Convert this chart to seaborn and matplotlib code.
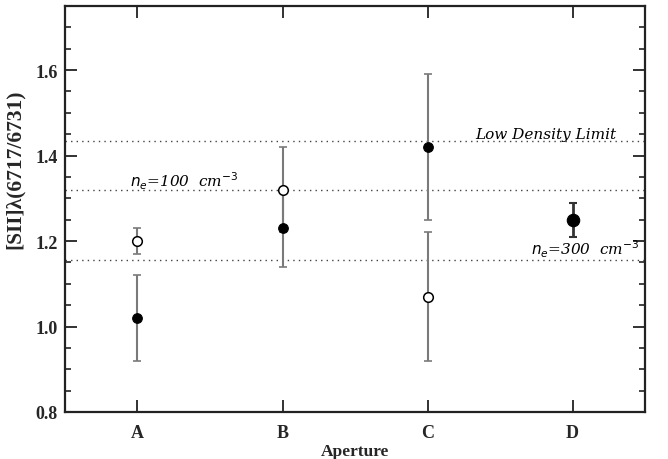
import matplotlib
matplotlib.use("Agg")
import matplotlib.pyplot as plt
from matplotlib.ticker import MultipleLocator, FixedLocator, FormatStrFormatter
import seaborn as sns
import pandas as pd

# Apertures and [SII] 6717/6731 line ratios
apertures = ["A", "B", "C", "D"]

filled_ratio = [1.02, 1.23, 1.42, 1.25]
filled_err = [0.10, 0.09, 0.17, 0.04]

open_apertures = ["A", "B", "C"]
open_ratio = [1.20, 1.32, 1.07]
open_err = [0.03, 0.10, 0.15]

# Density reference levels
low_density_limit = 1.433
ne100_level = 1.32
ne300_level = 1.155

sns.set_theme(style="ticks")
plt.rcParams["font.family"] = ["Liberation Serif", "DejaVu Serif"]

pos = {a: i + 1 for i, a in enumerate(apertures)}
df_filled = pd.DataFrame({"x": [pos[a] for a in apertures], "y": filled_ratio, "err": filled_err})
df_open = pd.DataFrame({"x": [pos[a] for a in open_apertures], "y": open_ratio, "err": open_err})

fig = plt.figure(figsize=(6.68, 4.60), dpi=100)
ax = fig.add_axes([0.0973, 0.1022, 0.8683, 0.8826])

# reference density levels
for lev in (low_density_limit, ne100_level, ne300_level):
    ax.axhline(lev, color="#444444", lw=1.0, ls=(0, (1, 3)), zorder=1)

# error bars: first three apertures in grey, D darker and heavier
grey = "#7a7a7a"
m = df_filled["x"] < 4
ax.errorbar(df_filled.loc[m, "x"], df_filled.loc[m, "y"], yerr=df_filled.loc[m, "err"],
            fmt="none", ecolor=grey, elinewidth=1.5, capsize=3, capthick=1.2, zorder=2)
ax.errorbar(df_open["x"], df_open["y"], yerr=df_open["err"],
            fmt="none", ecolor=grey, elinewidth=1.5, capsize=3, capthick=1.2, zorder=2)
ax.errorbar(df_filled.loc[~m, "x"], df_filled.loc[~m, "y"], yerr=df_filled.loc[~m, "err"],
            fmt="none", ecolor="#333333", elinewidth=2.0, capsize=3, capthick=1.5, zorder=2)

sns.scatterplot(data=df_filled[m], x="x", y="y", ax=ax, s=48, color="black",
                edgecolor="black", linewidth=0.8, zorder=3, legend=False)
sns.scatterplot(data=df_filled[~m], x="x", y="y", ax=ax, s=80, color="black",
                edgecolor="black", linewidth=0.8, zorder=3, legend=False)
sns.scatterplot(data=df_open, x="x", y="y", ax=ax, s=48, facecolor="white",
                edgecolor="black", linewidth=1.1, zorder=3, legend=False)

ax.set_xlim(0.5, 4.5)
ax.set_ylim(0.8, 1.75)
ax.xaxis.set_major_locator(FixedLocator([1, 2, 3, 4]))
ax.set_xticklabels(apertures)
ax.yaxis.set_major_locator(MultipleLocator(0.2))
ax.yaxis.set_minor_locator(MultipleLocator(0.05))
ax.yaxis.set_major_formatter(FormatStrFormatter("%.1f"))

ax.tick_params(axis="both", which="both", direction="in", top=True, right=True,
               color="#222222", labelsize=13)
ax.tick_params(axis="x", which="major", pad=9)
ax.tick_params(axis="y", which="major", pad=5)
ax.tick_params(axis="both", which="major", length=8.5, width=1.3)
ax.tick_params(axis="y", which="minor", length=4.5, width=1.2)
for lab in ax.get_xticklabels() + ax.get_yticklabels():
    lab.set_fontweight("bold")
for sp in ax.spines.values():
    sp.set_linewidth(1.6)
    sp.set_color("#222222")

ax.set_xlabel("Aperture", fontsize=12.5, fontweight="bold", labelpad=1)
ax.set_ylabel("[SII]λ(6717/6731)", fontsize=15.5, fontweight="bold")
ax.yaxis.set_label_coords(-0.069, 0.60)

lab_kw = dict(fontsize=11, fontstyle="italic", family=["DejaVu Serif"], color="black",
              va="baseline")
ax.text(4.3, low_density_limit + 0.008, "Low Density Limit", ha="right", **lab_kw)
ax.text(0.95, ne100_level + 0.008, r"$n_e$=100  cm$^{-3}$", ha="left", **lab_kw)
ax.text(4.46, ne300_level + 0.013, r"$n_e$=300  cm$^{-3}$", ha="right", **lab_kw)

fig.savefig("out.png", dpi=100)
